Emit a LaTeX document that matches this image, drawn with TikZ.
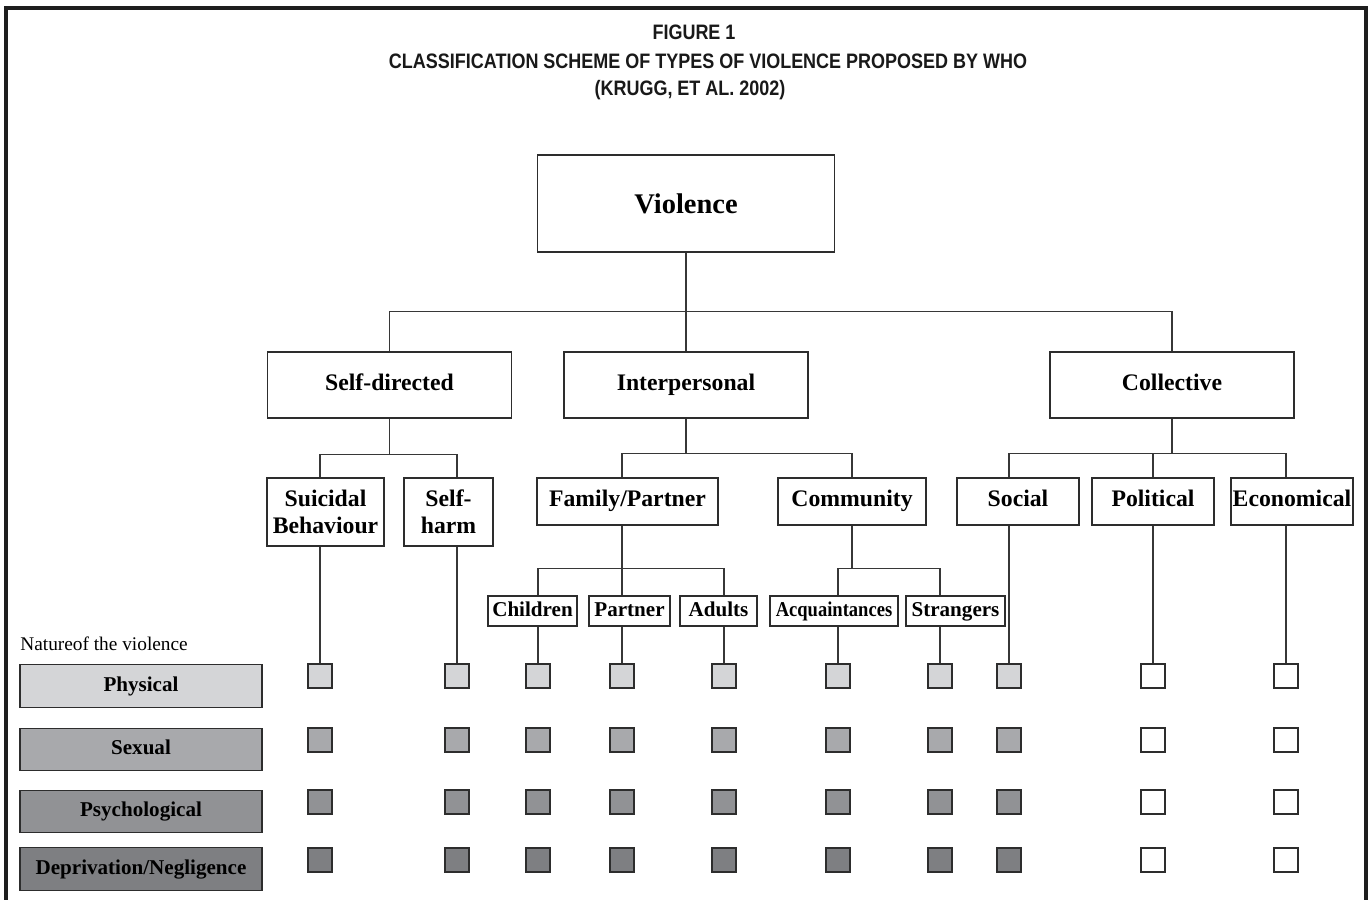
\documentclass[tikz,border=0pt]{standalone}
\usepackage{fontspec}
\usepackage{graphicx}
\setmainfont{Liberation Serif}
\newfontfamily\titlefont[FakeStretch=0.86]{Liberation Sans}
\usepackage{tikz}
\usetikzlibrary{positioning,calc}
\definecolor{boxline}{RGB}{45,45,45}
\definecolor{linecol}{RGB}{55,55,55}
\definecolor{framecol}{RGB}{30,30,30}
\definecolor{physcol}{RGB}{212,213,215}
\definecolor{sexcol}{RGB}{168,169,172}
\definecolor{psycol}{RGB}{145,146,149}
\definecolor{depcol}{RGB}{126,127,130}
\tikzset{
  oneline/.style={text height=0.8em,text depth=0.2em},
  topbox/.style={rectangle,draw=boxline,line width=0.8pt,fill=white,minimum width=5.94cm,
    minimum height=1.94cm,font=\fontsize{16.2}{18}\selectfont\bfseries},
  catbox/.style={rectangle,draw=boxline,line width=0.8pt,fill=white,minimum width=4.88cm,
    minimum height=1.32cm,oneline,font=\fontsize{13.5}{15.5}\selectfont\bfseries},
  subbox/.style={rectangle,draw=boxline,line width=0.8pt,fill=white,text width=#1,align=center,
    minimum height=0.94cm,inner xsep=0pt,inner ysep=1pt,font=\fontsize{13.5}{15.3}\selectfont\bfseries},
  subbox/.default=2.44cm,
  leafbox/.style={rectangle,draw=boxline,line width=0.8pt,fill=white,text width=#1,align=center,
    minimum height=0.6cm,inner xsep=0pt,inner ysep=0pt,oneline,font=\fontsize{12}{14}\selectfont\bfseries},
  leafbox/.default=1.6cm,
  natbox/.style={rectangle,draw=boxline,line width=0.8pt,fill=#1,minimum width=4.84cm,
    minimum height=0.85cm,oneline,font=\fontsize{12}{14}\selectfont\bfseries},
  sq/.style={rectangle,draw=boxline,line width=1pt,fill=#1,minimum size=0.48cm,inner sep=0pt},
  link/.style={draw=linecol,line width=0.8pt},
  frame/.style={draw=framecol,line width=1.8pt},
  titletext/.style={inner sep=0pt,text=black!90,font=\titlefont\fontsize{11.9}{14}\selectfont\bfseries}
}
\begin{document}
\begin{tikzpicture}[x=0.02cm,y=-0.02cm]
    \fill[white] (0,0) rectangle (1372,899);
    \useasboundingbox (0,0) rectangle (1372,899);
    \draw[frame] (6,910) -- (6,8) -- (1366,8) -- (1366,910);

    % Title
    \node[titletext] (fig) at (694,32) {FIGURE 1};
    \node[titletext] (caption) at (708,61) {CLASSIFICATION SCHEME OF TYPES OF VIOLENCE PROPOSED BY WHO};
    \node[titletext] (source) at (690,90) {(KRUGG, ET AL. 2002)};

    % Root and main types
    \node[topbox] (violence) at (686,203.5) {Violence};
    \node[catbox] (selfdir) at (389.5,385) {Self-directed};
    \node[catbox] (interp) at (686,385) {Interpersonal};
    \node[catbox] (collect) at (1172,385) {Collective};

    % Subtypes
    \node[subbox=2.34cm,minimum height=1.36cm] (suicidal) at (325.5,512) {Suicidal\\Behaviour};
    \node[subbox=1.78cm,minimum height=1.36cm] (selfharm) at (448.5,512) {Self-\\harm};
    \node[subbox=3.62cm,oneline] (family) at (627.5,501.5) {Family/Partner};
    \node[subbox=2.96cm,oneline] (community) at (852,501.5) {Community};
    \node[subbox,oneline] (social) at (1018,501.5) {Social};
    \node[subbox,oneline] (political) at (1153,501.5) {Political};
    \node[subbox,oneline] (econ) at (1292,501.5) {Economical};

    % Victims
    \node[leafbox=1.78cm] (children) at (532.5,611) {Children};
    \node[leafbox=1.62cm] (partner) at (629.5,611) {Partner};
    \node[leafbox=1.54cm] (adults) at (718.5,611) {Adults};
    \node[leafbox=2.56cm] (acq) at (834,611) {\scalebox{0.88}[1]{Acquaintances}};
    \node[leafbox=1.98cm] (strangers) at (955.5,611) {Strangers};

    % Nature of the violence
    \node[anchor=base west,inner sep=0pt,font=\fontsize{11}{13}\selectfont] (nature) at (20,650) {Natureof the violence};
    \node[natbox=physcol] (physical) at (141,686) {Physical};
    \node[natbox=sexcol] (sexual) at (141,749.5) {Sexual};
    \node[natbox=psycol] (psycho) at (141,811.5) {Psychological};
    \node[natbox=depcol] (depriv) at (141,869) {Deprivation/Negligence};

    % Squares
    \foreach \col/\cx/\tint in {sui/320/100,harm/457/100,chi/538/100,par/622/100,adu/724/100,
        acq/838/100,str/940/100,soc/1009/100,pol/1153/0,eco/1286/0}{
      \coordinate (c-\col) at (\cx,0);
      \foreach \row/\ry/\tone in {1/676/physcol,2/740/sexcol,3/802/psycol,4/860/depcol}
        \node[sq=\tone!\tint!white] (sq-\col-\row) at (\cx,\ry) {};
    }

    % Connections
    \draw[link] (violence.south) -- ++(0,59) coordinate (b-top);
    \draw[link] (selfdir.north) |- (b-top) -| (collect.north);
    \draw[link] (b-top) -- (interp.north);

    \draw[link] (selfdir.south) -- ++(0,36) coordinate (b-self);
    \draw[link] (c-sui |- suicidal.north) |- (b-self) -| (c-harm |- selfharm.north);

    \draw[link] (interp.south) -- ++(0,35) coordinate (b-int);
    \draw[link] (c-par |- family.north) |- (b-int) -| (community.north);

    \draw[link] (collect.south) -- ++(0,35) coordinate (b-coll);
    \draw[link] (c-soc |- social.north) |- (b-coll) -| (c-eco |- econ.north);
    \draw[link] (c-pol |- political.north) -- (c-pol |- b-coll);

    \draw[link] (c-par |- family.south) -- ++(0,43) coordinate (b-fam);
    \draw[link] (c-chi |- children.north) |- (b-fam) -| (c-adu |- adults.north);
    \draw[link] (b-fam) -- (c-par |- partner.north);

    \draw[link] (community.south) -- ++(0,43) coordinate (b-com);
    \draw[link] (c-acq |- acq.north) |- (b-com) -| (c-str |- strangers.north);

    \foreach \col/\leaf in {sui/suicidal,harm/selfharm,chi/children,par/partner,adu/adults,
        acq/acq,str/strangers,soc/social,pol/political,eco/econ}
      \draw[link] (sq-\col-1.north) -- (sq-\col-1.north |- \leaf.south);

  \end{tikzpicture}
\end{document}
